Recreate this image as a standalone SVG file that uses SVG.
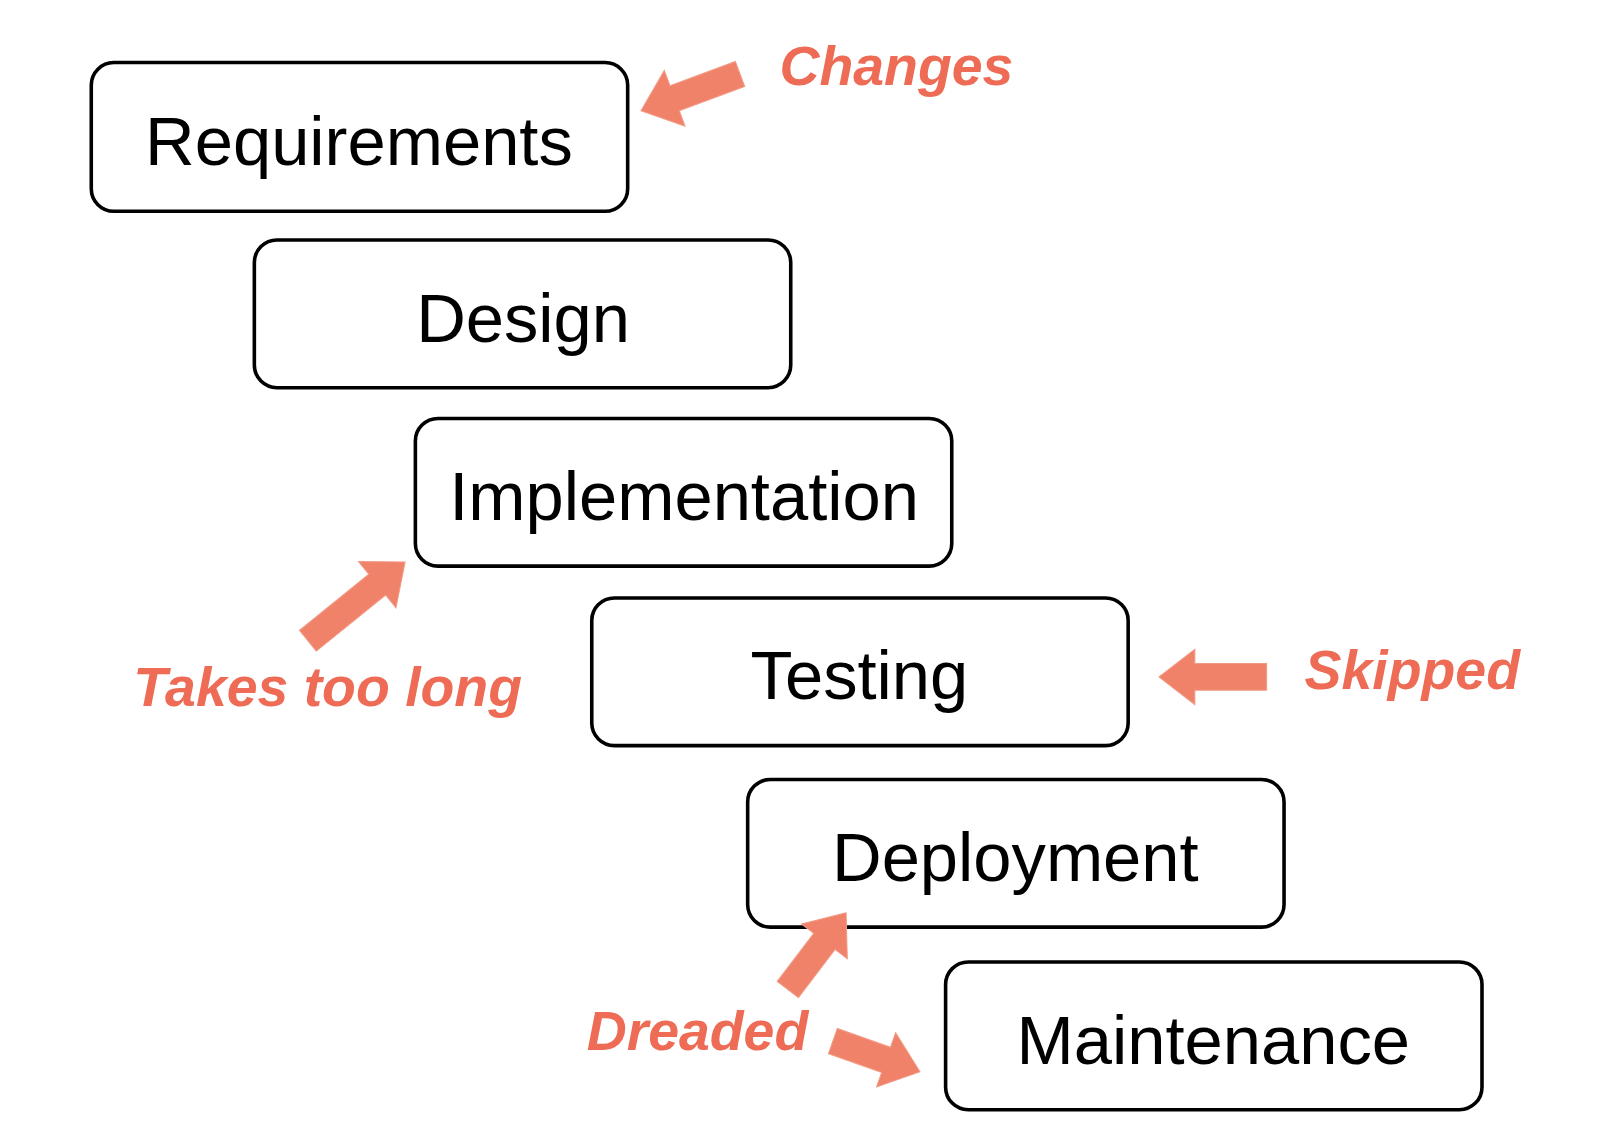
<svg xmlns="http://www.w3.org/2000/svg" width="1600" height="1142" viewBox="0 0 1600 1142">
<style>
.box{fill:#fff;stroke:#000;stroke-width:3.5}
.t{font-family:"Liberation Sans",Arial,sans-serif;font-size:67px;text-anchor:middle;fill:#000}
.l{font-family:"Liberation Sans",Arial,sans-serif;font-size:54px;font-weight:bold;font-style:italic;fill:#EE6B55}
.a{fill:#F08269;stroke:#F29A86;stroke-width:1}
</style>
<rect width="1600" height="1142" fill="#fff"/>
<g transform="scale(1.0256)">
<g id="requirements"><rect class="box" x="89" y="61" width="523" height="145" rx="22"/><text class="t" x="350" y="161">Requirements</text></g>
<g id="design"><rect class="box" x="248" y="234" width="523" height="144" rx="22"/><text class="t" x="510" y="333">Design</text></g>
<g id="implementation"><rect class="box" x="405" y="408" width="523" height="144" rx="22"/><text class="t" x="667" y="507">Implementation</text></g>
<g id="testing"><rect class="box" x="577" y="583" width="523" height="144" rx="22"/><text class="t" x="838" y="682">Testing</text></g>
<g id="deployment"><rect class="box" x="729" y="760" width="523" height="144" rx="22"/><text class="t" x="990" y="859">Deployment</text></g>
<g id="maintenance"><rect class="box" x="922" y="938" width="523" height="144" rx="22"/><text class="t" x="1183" y="1037">Maintenance</text></g>
<g id="labels">
<text class="l" x="760" y="83">Changes</text>
<text class="l" x="130" y="688">Takes too long</text>
<text class="l" x="1272" y="672">Skipped</text>
<text class="l" x="572" y="1024">Dreaded</text>
</g>
<g id="connectors">
<path class="a" transform="translate(625,108) rotate(159.6)" d="M0,0 L-35,-29 L-35,-13 L-103,-13 L-103,13 L-35,13 L-35,29 Z"/>
<path class="a" transform="translate(395,548) rotate(-39)" d="M0,0 L-35,-29 L-35,-13 L-122,-13 L-122,13 L-35,13 L-35,29 Z"/>
<path class="a" transform="translate(1130,660) rotate(180)" d="M0,0 L-35,-27 L-35,-13 L-105,-13 L-105,13 L-35,13 L-35,27 Z"/>
<path class="a" transform="translate(825,890) rotate(-52.8)" d="M0,0 L-35,-28 L-35,-13 L-94,-13 L-94,13 L-35,13 L-35,28 Z"/>
<path class="a" transform="translate(897,1045) rotate(19.4)" d="M0,0 L-35,-28 L-35,-13 L-90,-13 L-90,13 L-35,13 L-35,28 Z"/>
</g>
</g>
</svg>
